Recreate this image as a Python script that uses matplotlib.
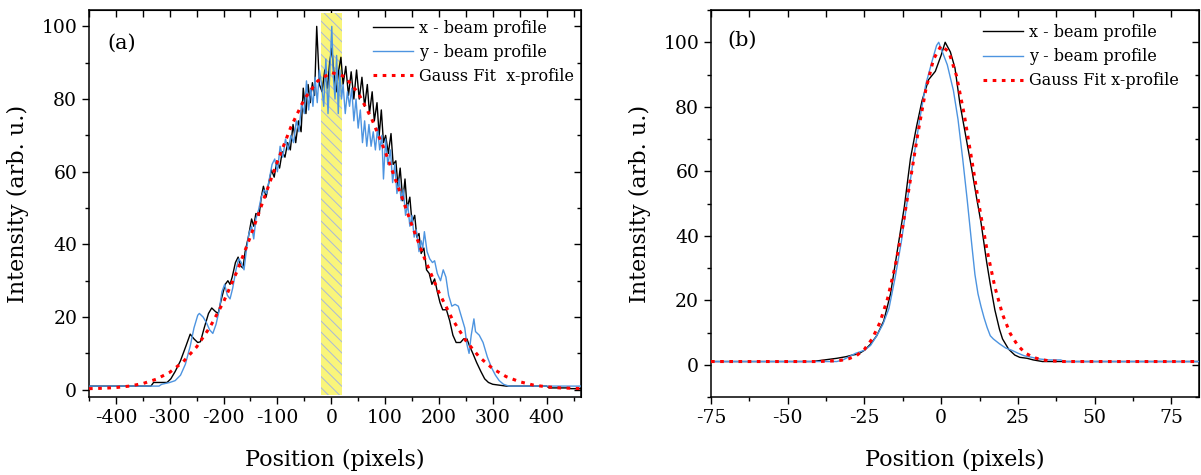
import matplotlib
matplotlib.use("Agg")
import matplotlib.pyplot as plt
from matplotlib.patches import Rectangle
from matplotlib.ticker import MultipleLocator, NullFormatter

plt.rcParams['font.family'] = ['DejaVu Serif']
plt.rcParams['axes.unicode_minus'] = False
plt.rcParams['hatch.linewidth'] = 0.7

# ---- panel (a): wide beam, positions in pixels ----
a_x_pos = [-450, -335, -330, -305, -298, -290, -280, -270, -262, -255, -248, -243, -236, -228,
           -222, -215, -210, -204, -197, -192, -188, -184, -178, -173, -168, -164, -160, -154,
           -148, -144, -140, -134, -130, -126, -121, -116, -111, -106, -101, -96, -91, -86,
           -81, -76, -71, -66, -61, -56, -52, -47, -43, -39, -35, -31, -27, -22, -17, -12,
           -7, -3, 1, 5, 9, 14, 18, 22, 27, 32, 37, 42, 47, 52, 57, 62, 67, 71, 76, 80,
           85, 89, 93, 97, 101, 106, 111, 115, 120, 124, 128, 133, 137, 141, 146, 150, 155,
           159, 163, 167, 172, 177, 182, 187, 192, 197, 202, 207, 214, 220, 226, 232, 240,
           246, 252, 257, 263, 270, 278, 285, 292, 300, 315, 325, 400, 405, 440, 445, 465]
a_x_int = [1, 1, 2, 2, 3, 5, 8, 12, 15.3, 14, 13, 13.2, 17, 21,
           22.5, 21.5, 21, 25, 29, 30, 29, 31, 35, 36.5, 34, 33.5, 38, 42,
           47, 45, 48.5, 48, 53, 56, 53, 57, 60.5, 58.5, 63, 61, 65.5, 64,
           68, 66, 73, 68, 74, 71, 83, 76, 84, 79, 84.5, 81, 100, 84, 82, 88,
           83, 90, 94, 87, 82, 88, 91.5, 84, 89, 81, 87.5, 80, 88, 80, 86, 78, 84, 76, 82, 74,
           79, 70, 77, 68, 70, 65, 70.5, 62, 63, 56, 61, 52, 58, 50, 53, 46, 48,
           42, 43, 37.5, 39, 33, 32, 29, 30.5, 27, 24, 22, 22, 19, 15, 13, 13,
           14, 14, 12, 10, 7.5, 5, 3, 2, 1.5, 1.2, 1, 1, 0.5, 0.5, 0.3, 0.3]

a_y_pos = [-450, -320, -315, -300, -290, -280, -271, -262, -255, -248, -245, -238, -232, -226,
           -220, -214, -208, -203, -198, -193, -188, -183, -177, -172, -167, -162, -158, -153,
           -148, -144, -140, -135, -130, -125, -120, -115, -110, -105, -100, -95, -90, -85,
           -80, -75, -70, -65, -60, -55, -50, -46, -42, -38, -34, -30, -26, -22, -18, -14,
           -10, -6, -2, 1, 4, 7, 10, 13, 16, 19, 22, 26, 30, 34, 38, 42, 46, 50, 54, 58,
           62, 66, 70, 74, 78, 82, 86, 90, 94, 97, 101, 105, 110, 114, 118, 122, 126, 130,
           134, 138, 142, 146, 150, 154, 158, 163, 167, 170, 173, 178, 183, 188, 192, 197,
           203, 208, 213, 218, 224, 230, 236, 242, 248, 252, 256, 260, 265, 268, 275, 282,
           290, 298, 305, 312, 320, 330, 465]
a_y_int = [1, 1, 1.5, 2, 2.5, 4, 7, 12, 17, 20.5, 21, 20, 18.5, 16.5,
           15.5, 18, 22, 27, 29, 26, 25, 28, 33, 36, 35, 33, 38, 43,
           45, 41.5, 47, 49.5, 53, 55, 54, 58, 62, 63.5, 60, 67, 64, 69,
           66, 70, 68, 74, 71, 79, 76, 85, 77, 83, 78, 86, 79, 88, 84, 78,
           91, 76, 90, 100, 86, 80, 92, 76, 88, 80, 84, 76, 82, 78, 83, 74, 80, 72, 77, 68,
           74, 67, 73, 67, 71, 66, 72, 66, 70, 58, 69, 62, 66, 57, 62, 54, 58, 52,
           55, 48, 51, 45, 48, 42, 44, 38, 41, 39, 43.5, 38, 36, 35, 35.5, 32,
           30, 33, 31, 26, 23, 23.5, 23, 20, 17, 12.5, 10, 15, 19.5, 16, 15, 13,
           9, 6, 4, 2.5, 1.5, 1, 1]

a_fit_pos = [-450, -425, -400, -375, -350, -325, -300, -275, -250, -225, -200, -175, -150,
             -125, -100, -75, -50, -25, 0, 25, 50, 75, 100, 125, 150, 175, 200, 225, 250,
             275, 300, 325, 350, 375, 400, 425, 450, 465]
a_fit_int = [0.3, 0.4, 0.6, 1.0, 1.7, 2.9, 4.8, 7.7, 11.8, 17.3, 24.2, 32.6, 42.2,
             52.6, 62.8, 72.3, 80.0, 85.0, 87.3, 86.2, 81.7, 74.6, 65.6, 55.5, 45.2, 35.5,
             26.8, 19.4, 13.5, 9.0, 5.8, 3.6, 2.2, 1.3, 0.8, 0.5, 0.4, 0.3]

# ---- panel (b): focused beam ----
b_x_pos = [-75, -42, -38, -34, -31, -29, -27, -25, -23, -21, -18.7, -16.5, -14.3, -12, -10,
           -8, -6.2, -4.1, -1.9, 0, 1.3, 3, 4.5, 6.1, 8, 9.9, 11.5, 13, 14.8, 16, 17.5, 19,
           20, 22, 24, 25.6, 28, 30, 33, 84]
b_x_int = [1, 1, 1.5, 2, 2.5, 3, 3.3, 4.5, 6.4, 9, 13.6, 22, 35.3, 49, 64,
           74, 82, 88.4, 91, 96, 100, 97, 92, 81, 71, 61, 52, 44, 32, 25, 17, 11,
           8, 4.8, 3, 2.3, 2, 1.5, 1, 1]

b_y_pos = [-75, -34, -32, -30, -28, -25, -23, -21, -19, -17, -15, -13, -11, -9, -7, -5, -3,
           -1.5, -0.8, 0, 2, 4, 5.5, 7, 8.5, 10, 11, 12, 13, 14, 15, 16, 17, 19, 21, 23,
           25, 27, 29, 32, 35, 39, 40, 84]
b_y_int = [1, 1, 1.5, 2.5, 3.5, 4.5, 6, 9, 12.5, 17.5, 27, 38, 51, 64, 76, 87, 94,
           99, 100, 98, 93, 85, 76, 64, 51, 37, 28, 22, 18, 14.5, 11.5, 9, 8, 6.5, 5.2, 4.5,
           3.6, 2.8, 2.4, 1.8, 1.5, 1.5, 1, 1]

b_fit_pos = [-75, -40, -35, -32.5, -30, -27.5, -25, -22.5, -20, -17.5, -15, -12.5, -10,
             -7.5, -5, -2.5, 0, 2.5, 5, 7.5, 10, 12.5, 15, 17.5, 20, 22.5, 25, 27.5, 30,
             32.5, 35, 40, 84]
b_fit_int = [1, 1.0, 1.2, 1.4, 1.9, 2.9, 4.8, 8, 13, 20.4, 30.5, 43, 57.5,
             72.2, 85.3, 94.7, 99, 97, 89.6, 77.7, 63.4, 48.7, 35.3, 24.1, 15.6, 9.7, 5.9,
             3.6, 2.3, 1.6, 1.25, 1.0, 1.0]

labels_a = ['x - beam profile', 'y - beam profile', 'Gauss Fit  x-profile']
labels_b = ['x - beam profile', 'y - beam profile', 'Gauss Fit x-profile']

blue = '#4d94e0'
red = '#ff0000'
dots = (0, (1.2, 1.8))

fig = plt.figure(figsize=(12.01, 4.75), dpi=100)
ax_a = fig.add_axes([0.0741, 0.1642, 0.4097, 0.8147])
ax_b = fig.add_axes([0.5920, 0.1642, 0.4063, 0.8147])


def style_axes(ax, xmaj, xmin, ymaj, ymin):
    ax.xaxis.set_major_locator(MultipleLocator(xmaj))
    ax.xaxis.set_minor_locator(MultipleLocator(xmin))
    ax.yaxis.set_major_locator(MultipleLocator(ymaj))
    ax.yaxis.set_minor_locator(MultipleLocator(ymin))
    ax.tick_params(which='both', direction='out', labelsize=13.5, width=1)
    ax.tick_params(which='major', length=5)
    ax.tick_params(which='minor', length=3)
    for s in ax.spines.values():
        s.set_linewidth(1.1)
    # inward ticks on top and right
    top = ax.secondary_xaxis('top')
    top.xaxis.set_major_locator(MultipleLocator(xmaj))
    top.xaxis.set_minor_locator(MultipleLocator(xmin))
    top.xaxis.set_major_formatter(NullFormatter())
    top.tick_params(which='both', direction='in', width=1)
    top.tick_params(which='major', length=5)
    top.tick_params(which='minor', length=5)
    right = ax.secondary_yaxis('right')
    right.yaxis.set_major_locator(MultipleLocator(ymaj))
    right.yaxis.set_minor_locator(MultipleLocator(ymin))
    right.yaxis.set_major_formatter(NullFormatter())
    right.tick_params(which='both', direction='in', width=1)
    right.tick_params(which='major', length=5)
    right.tick_params(which='minor', length=3)
    ax.set_xlabel('Position (pixels)', fontsize=16, labelpad=16)
    ax.set_ylabel('Intensity (arb. u.)', fontsize=16, labelpad=9)


# panel (a)
band = Rectangle((-19, -1.5), 39, 105.2, facecolor='#f9f57a', edgecolor='#a9b8da',
                 hatch='\\\\\\', linewidth=0, zorder=1)
ax_a.add_patch(band)
ax_a.plot(a_x_pos, a_x_int, color='black', lw=1.0, label=labels_a[0], zorder=3)
ax_a.plot(a_y_pos, a_y_int, color=blue, lw=1.0, label=labels_a[1], zorder=3)
ax_a.plot(a_fit_pos, a_fit_int, color=red, lw=2.2, ls=dots, label=labels_a[2], zorder=4)
ax_a.set_xlim(-450, 464)
ax_a.set_ylim(-2, 104.5)
style_axes(ax_a, 100, 50, 20, 10)
ax_a.text(0.067, 0.915, '(a)', transform=ax_a.transAxes, fontsize=15, ha='center', va='center')
ax_a.legend(loc='upper left', bbox_to_anchor=(0.577, 0.975), frameon=False, fontsize=11.5,
            handlelength=2.5, handletextpad=0.4, labelspacing=0.45, borderpad=0,
            borderaxespad=0)

# panel (b)
ax_b.plot(b_x_pos, b_x_int, color='black', lw=1.0, label=labels_b[0], zorder=3)
ax_b.plot(b_y_pos, b_y_int, color=blue, lw=1.0, label=labels_b[1], zorder=3)
ax_b.plot(b_fit_pos, b_fit_int, color=red, lw=2.2, ls=dots, label=labels_b[2], zorder=4)
ax_b.set_xlim(-75, 84)
ax_b.set_ylim(-10, 110)
style_axes(ax_b, 25, 12.5, 20, 10)
ax_b.text(0.064, 0.922, '(b)', transform=ax_b.transAxes, fontsize=15, ha='center', va='center')
ax_b.legend(loc='upper left', bbox_to_anchor=(0.557, 0.964), frameon=False, fontsize=11.5,
            handlelength=2.5, handletextpad=0.4, labelspacing=0.45, borderpad=0,
            borderaxespad=0)

fig.savefig('out.png', dpi=100)
